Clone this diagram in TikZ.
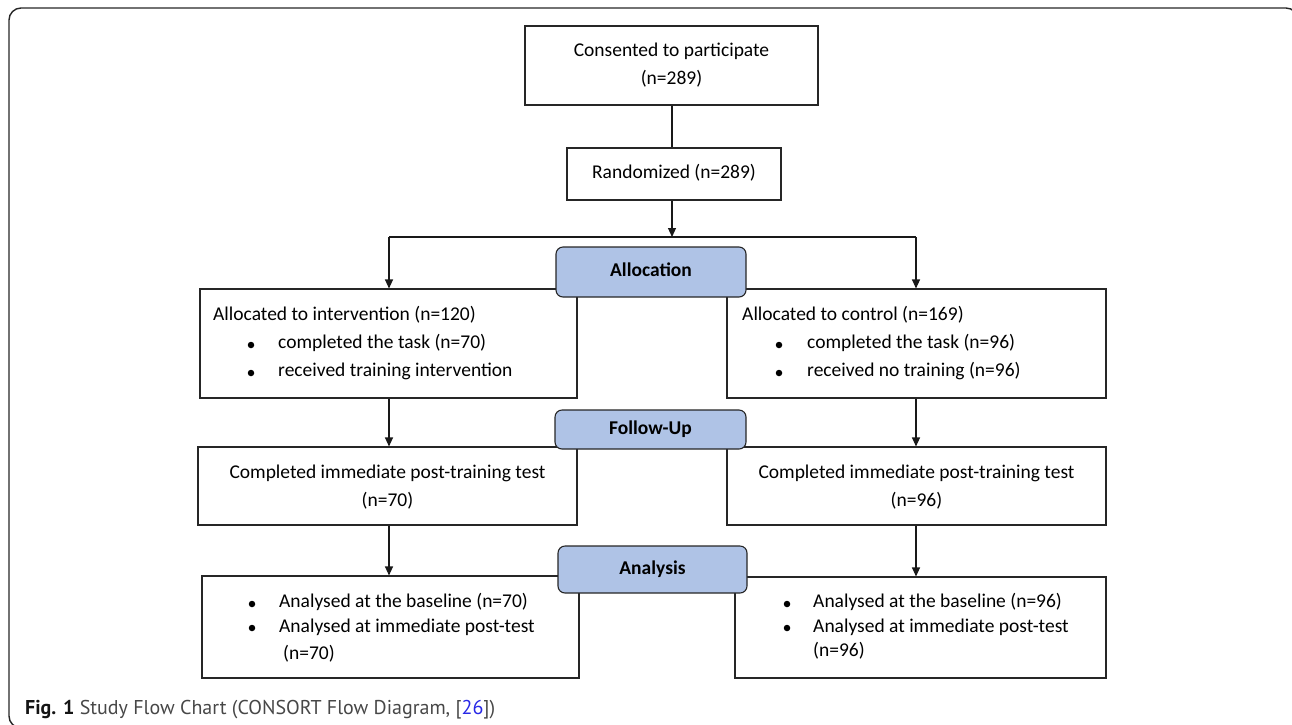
\documentclass[tikz,border=0pt]{standalone}
\usepackage{fontspec}
\setmainfont{Carlito}
\newfontfamily\capfont{PT Sans}
\usetikzlibrary{arrows.meta}
\definecolor{lblue}{RGB}{175,195,230}
\definecolor{linkblue}{RGB}{40,40,230}
\newcommand\dfs{\fontsize{19.5}{23}\selectfont}
\begin{document}
\begin{tikzpicture}[x=1pt,y=-1pt,
  box/.style={draw=black!85, line width=1.1pt, fill=white, rectangle, inner sep=0},
  lab/.style={draw=black!85, line width=1.1pt, fill=lblue, rounded corners=7pt, inner sep=0, font=\dfs\bfseries, text height=14pt, text depth=5pt},
  txt/.style={font=\dfs, inner sep=0, anchor=west, text height=14pt, text depth=5pt},
  ctxt/.style={font=\dfs, inner sep=0, text height=14pt, text depth=5pt},
  bul/.style={circle, fill=black, inner sep=0, minimum size=6.5pt},
  arr/.style={line width=1.1pt, draw=black!90, -{Triangle[width=8pt,length=9pt]}},
  ln/.style={line width=1.1pt, draw=black!90}]
\useasboundingbox (0,0) rectangle (1292,724);
\clip (0,0) rectangle (1292,724);
% outer frame
\draw[line width=1.4pt, draw=black!85, rounded corners=12pt] (9,8) rectangle (1298,728);

% boxes
\node[box, minimum width=293pt, minimum height=79pt] (cons) at (671.5,65.5) {};
\node[ctxt] (consT1) at (671.5,52) {Consented to participate};
\node[ctxt] (consT2) at (671.5,80) {(n=289)};

\node[box, minimum width=214pt, minimum height=52pt] (rand) at (674,174) {};
\node[ctxt] (randT) at (674,174) {Randomized (n=289)};

\node[box, minimum width=377pt, minimum height=109pt] (intA) at (388.5,343.5) {};
\node[txt] (intA1) at (213,316) {Allocated to intervention (n=120)};
\node[bul] (intAb1) at (251,345) {};
\node[txt] (intA2) at (278,344) {completed the task (n=70)};
\node[bul] (intAb2) at (251,373) {};
\node[txt] (intA3) at (278,372) {received training intervention};

\node[box, minimum width=379pt, minimum height=109pt] (ctlA) at (916.5,343.5) {};
\node[txt] (ctlA1) at (742,316) {Allocated to control (n=169)};
\node[bul] (ctlAb1) at (779,345) {};
\node[txt] (ctlA2) at (807,344) {completed the task (n=96)};
\node[bul] (ctlAb2) at (779,373) {};
\node[txt] (ctlA3) at (807,372) {received no training (n=96)};

\node[box, minimum width=379pt, minimum height=78pt] (intF) at (387.5,486) {};
\node[ctxt] (intF1) at (387.5,474) {Completed immediate post-training test};
\node[ctxt] (intF2) at (387.5,502) {(n=70)};

\node[box, minimum width=379pt, minimum height=78pt] (ctlF) at (916.5,486) {};
\node[ctxt] (ctlF1) at (916.5,474) {Completed immediate post-training test};
\node[ctxt] (ctlF2) at (916.5,502) {(n=96)};

\node[box, minimum width=377pt, minimum height=102pt] (intN) at (390.5,627) {};
\node[bul] (intNb1) at (252,604) {};
\node[txt] (intN1) at (279,603) {Analysed at the baseline (n=70)};
\node[bul] (intNb2) at (252,628) {};
\node[txt] (intN2) at (279,628) {Analysed at immediate post-test};
\node[txt] (intN3) at (283,655) {(n=70)};

\node[box, minimum width=371pt, minimum height=101pt] (ctlN) at (920.5,627.5) {};
\node[bul] (ctlNb1) at (787,604) {};
\node[txt] (ctlN1) at (813,603) {Analysed at the baseline (n=96)};
\node[bul] (ctlNb2) at (787,628) {};
\node[txt] (ctlN2) at (813,628) {Analysed at immediate post-test};
\node[txt] (ctlN3) at (813,652) {(n=96)};

% connectors
\coordinate (split) at (672,237);
\coordinate (L) at (389,237);
\coordinate (R) at (916,237);
\draw[ln] (cons.south -| split) -- (rand.north -| split);
\draw[ln] (L) -- (R);
\draw[arr] (rand.south -| split) -- (split);
\draw[arr] (L) -- (L |- intA.north);
\draw[arr] (R) -- (R |- ctlA.north);
\draw[arr] (intA.south -| L) -- (L |- intF.north);
\draw[arr] (ctlA.south -| R) -- (R |- ctlF.north);
\draw[arr] (intF.south -| L) -- (L |- intN.north);
\draw[arr] (ctlF.south -| R) -- (R |- ctlN.north);

% stage labels
\node[lab, minimum width=190pt, minimum height=50pt] (alloc) at (651,272) {Allocation};
\node[lab, minimum width=191pt, minimum height=39pt] (fup) at (650.5,429.5) {Follow-Up};
\node[lab, minimum width=189pt, minimum height=47pt] (ana) at (652.5,569.5) {Analysis};

% caption
\node[anchor=base west, font=\capfont\fontsize{20}{24}\selectfont, inner sep=0, text=black!72] (cap) at (25,714) {\textcolor{black!92}{\textbf{Fig. 1}} Study Flow Chart (CONSORT Flow Diagram, [\textcolor{linkblue}{26}])};
\end{tikzpicture}
\end{document}
